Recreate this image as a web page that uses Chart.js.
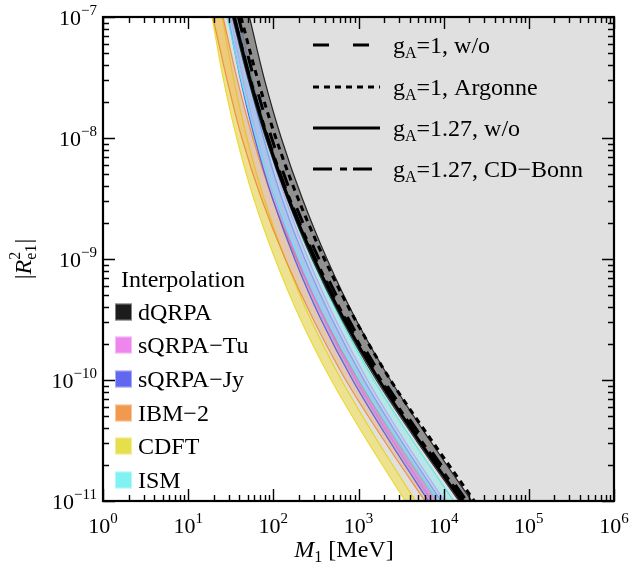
<!DOCTYPE html>
<html>
<head>
<meta charset="utf-8">
<script src="https://cdn.jsdelivr.net/npm/chart.js@4.4.0/dist/chart.umd.min.js"></script>
<style>
html, body { margin: 0; padding: 0; background: #fff; }
</style>
</head>
<body>
<canvas id="grafico" width="633" height="576"></canvas>
<script>
// Niveles de |R^2_e1| en los que se leyeron las curvas (de arriba a abajo)
const nivelesR = [1e-7, 3.16e-8, 1e-8, 3.16e-9, 1e-9, 3.16e-10, 1e-10, 3.16e-11, 1e-11];

// M1 [MeV] de cada borde de banda en esos niveles
const cdftLo = [19.1, 25.7, 37.2, 58.9, 105, 209, 479, 1259, 3548];
const cdftHi = [25.1, 33.9, 49.0, 77.6, 138, 275, 631, 1660, 4677];
const ibmLo  = [19.5, 28.2, 42.7, 72.4, 138, 295, 708, 1995, 6026];
const ibmHi  = [25.7, 37.2, 57.5, 97.7, 188, 407, 1000, 2818, 8511];
const jyLo   = [29.5, 40.7, 60.3, 97.7, 178, 363, 851, 2291, 6607];
const jyHi   = [36.3, 51.3, 76.7, 126, 234, 490, 1161, 3162, 9333];
const tuLo   = [31.6, 43.7, 64.6, 105, 193, 398, 933, 2512, 7244];
const tuHi   = [39.8, 56.2, 84.1, 138, 257, 537, 1274, 3467, 10233];
const ismLo  = [28.8, 41.2, 63.1, 106, 200, 422, 1023, 2851, 8511];
const ismHi  = [38.0, 55.6, 87.1, 148, 285, 617, 1514, 4315, 13183];
const dqLo   = [33.1, 50.1, 81.3, 145, 285, 638, 1622, 4786, 15136];
const dqHi   = [52.5, 77.6, 124, 219, 427, 933, 2371, 6918, 21380];

// Curvas negras (limites)
const gA1wo      = [38.9, 58.9, 95.5, 170, 343, 767, 1972, 5888, 18621];
const gA1Argonne = [41.7, 64.6, 107, 195, 398, 912, 2371, 7244, 22909];
const gA127wo    = [34.7, 52.5, 85.1, 151, 302, 676, 1738, 5129, 16218];
const gA127Bonn  = [34.7, 53.0, 86.5, 155, 313, 706, 1828, 5445, 17378];

// Ticks
const ticksX = [1, 10, 100, 1e3, 1e4, 1e5, 1e6];
const expX = [0, 1, 2, 3, 4, 5, 6];
const ticksY = [1e-7, 1e-8, 1e-9, 1e-10, 1e-11];
const expY = [-7, -8, -9, -10, -11];

const fuente = '"Liberation Serif", "Times New Roman", serif';

function puntos(arr) {
    return arr.map((m, i) => ({ x: m, y: nivelesR[i] }));
}

const bandas = [
    { nombre: 'CDFT',      lo: cdftLo, hi: cdftHi, borde: 'rgba(232,212,30,0.95)', relleno: 'rgba(245,228,80,0.55)', muestra: '#e6df4c' },
    { nombre: 'IBM\u22122', lo: ibmLo,  hi: ibmHi,  borde: 'rgba(240,135,50,0.9)',  relleno: 'rgba(240,150,70,0.30)', muestra: '#f0994f' },
    { nombre: 'sQRPA\u2212Jy', lo: jyLo, hi: jyHi, borde: 'rgba(80,80,240,0.9)',   relleno: 'rgba(100,100,240,0.30)', muestra: '#6366ee' },
    { nombre: 'sQRPA\u2212Tu', lo: tuLo, hi: tuHi, borde: 'rgba(235,110,235,0.9)', relleno: 'rgba(240,130,240,0.30)', muestra: '#ee86ee' },
    { nombre: 'ISM',       lo: ismLo,  hi: ismHi,  borde: 'rgba(80,235,235,0.9)',  relleno: 'rgba(120,240,240,0.40)', muestra: '#80f2f2' },
    { nombre: 'dQRPA',     lo: dqLo,   hi: dqHi,   borde: 'rgba(20,20,20,0.9)',    relleno: 'rgba(90,90,90,0.6)',    muestra: '#1c1c1c' }
];

const lineas = [
    { etiqueta: ['1', ', w/o'],        datos: gA1wo,      dash: [16, 24] },
    { etiqueta: ['1', ', Argonne'],    datos: gA1Argonne, dash: [6, 5] },
    { etiqueta: ['1.27', ', w/o'],     datos: gA127wo,    dash: [] },
    { etiqueta: ['1.27', ', CD\u2212Bonn'], datos: gA127Bonn, dash: [19, 8, 7, 6] }
];

const datasets = [];
// region excluida (gris claro)
datasets.push({
    data: puntos(cdftLo),
    borderWidth: 0,
    borderColor: 'rgba(0,0,0,0)',
    backgroundColor: '#e0e0e0',
    fill: { value: 1e9 }
});
bandas.forEach(b => {
    datasets.push({ data: puntos(b.lo), borderColor: b.borde, borderWidth: 1.2, fill: false });
    datasets.push({ data: puntos(b.hi), borderColor: b.borde, borderWidth: 1.2, backgroundColor: b.relleno, fill: '-1' });
});
lineas.forEach(l => {
    datasets.push({ data: puntos(l.datos), borderColor: '#000', borderWidth: 3, borderDash: l.dash, fill: false });
});
datasets.forEach((d, i) => {
    d.order = 100 - i;
    d.pointRadius = 0;
    d.cubicInterpolationMode = 'monotone';
});

function textoRico(ctx, partes, x, y, align) {
    let total = 0;
    partes.forEach(p => {
        ctx.font = (p.italic ? 'italic ' : '') + p.size + 'px ' + fuente;
        p.w = p.sinAvance ? 0 : ctx.measureText(p.t).width;
        if (p.ancho) p.w = p.ancho;
        total += p.w;
    });
    let cx = align === 'center' ? x - total / 2 : (align === 'right' ? x - total : x);
    partes.forEach(p => {
        ctx.font = (p.italic ? 'italic ' : '') + p.size + 'px ' + fuente;
        ctx.fillText(p.t, cx, y + (p.dy || 0));
        cx += p.w;
    });
}

const marcos = {
    id: 'marcos',
    afterDraw(chart) {
        const ctx = chart.ctx;
        const a = chart.chartArea;
        const sx = chart.scales.x, sy = chart.scales.y;
        ctx.save();
        ctx.fillStyle = '#000';
        ctx.strokeStyle = '#000';
        ctx.textBaseline = 'alphabetic';

        // ticks menores y mayores, hacia dentro en los cuatro lados
        ctx.lineWidth = 1.4;
        ctx.beginPath();
        for (let d = 0; d < 6; d++) {
            for (let k = 2; k <= 9; k++) {
                const px = Math.round(sx.getPixelForValue(k * Math.pow(10, d))) + 0.5;
                ctx.moveTo(px, a.bottom); ctx.lineTo(px, a.bottom - 6);
                ctx.moveTo(px, a.top); ctx.lineTo(px, a.top + 6);
            }
        }
        ticksX.forEach(v => {
            const px = Math.round(sx.getPixelForValue(v)) + 0.5;
            ctx.moveTo(px, a.bottom); ctx.lineTo(px, a.bottom - 12);
            ctx.moveTo(px, a.top); ctx.lineTo(px, a.top + 12);
        });
        for (let d = -11; d < -7; d++) {
            for (let k = 2; k <= 9; k++) {
                const py = Math.round(sy.getPixelForValue(k * Math.pow(10, d))) + 0.5;
                ctx.moveTo(a.left, py); ctx.lineTo(a.left + 6, py);
                ctx.moveTo(a.right, py); ctx.lineTo(a.right - 6, py);
            }
        }
        ticksY.forEach(v => {
            const py = Math.round(sy.getPixelForValue(v)) + 0.5;
            ctx.moveTo(a.left, py); ctx.lineTo(a.left + 12, py);
            ctx.moveTo(a.right, py); ctx.lineTo(a.right - 12, py);
        });
        ctx.stroke();

        // marco
        ctx.lineWidth = 2.2;
        ctx.strokeRect(a.left, a.top, a.right - a.left, a.bottom - a.top);

        // etiquetas de ticks
        ticksX.forEach((v, i) => {
            const px = sx.getPixelForValue(v);
            textoRico(ctx, [{ t: '10', size: 22 }, { t: String(expX[i]), size: 15, dy: -10 }], px, a.bottom + 32, 'center');
        });
        ticksY.forEach((v, i) => {
            const py = sy.getPixelForValue(v);
            textoRico(ctx, [{ t: '10', size: 22 }, { t: '\u2212' + Math.abs(expY[i]), size: 15, dy: -10 }], 97, py + 8, 'right');
        });

        // titulos de ejes
        textoRico(ctx, [
            { t: 'M', size: 24, italic: true },
            { t: '1', size: 16, dy: 5 },
            { t: ' [MeV]', size: 24 }
        ], 344, 557, 'center');

        ctx.save();
        ctx.translate(31, 259);
        ctx.rotate(-Math.PI / 2);
        ctx.font = '16px ' + fuente;
        const anchoSub = ctx.measureText('e1').width;
        textoRico(ctx, [
            { t: '|', size: 24 },
            { t: 'R', size: 24, italic: true },
            { t: '2', size: 16, dy: -11, sinAvance: true },
            { t: 'e1', size: 16, dy: 5, ancho: anchoSub + 1 },
            { t: '|', size: 24 }
        ], 0, 0, 'center');
        ctx.restore();

        // leyenda de lineas (arriba a la derecha)
        const filas = [45, 87, 128, 169];
        lineas.forEach((l, i) => {
            const y = filas[i];
            ctx.lineWidth = 3;
            ctx.setLineDash(l.dash);
            ctx.beginPath();
            ctx.moveTo(313, y); ctx.lineTo(380, y);
            ctx.stroke();
            ctx.setLineDash([]);
            textoRico(ctx, [
                { t: 'g', size: 24 },
                { t: 'A', size: 16, dy: 5 },
                { t: '=' + l.etiqueta[0] + l.etiqueta[1], size: 24 }
            ], 393, y + 8, 'left');
        });

        // leyenda de bandas (abajo a la izquierda)
        textoRico(ctx, [{ t: 'Interpolation', size: 24 }], 121, 287, 'left');
        const orden = ['dQRPA', 'sQRPA\u2212Tu', 'sQRPA\u2212Jy', 'IBM\u22122', 'CDFT', 'ISM'];
        const filasB = [312, 345, 379, 413, 446, 480];
        orden.forEach((n, i) => {
            const b = bandas.find(x => x.nombre === n);
            const y = filasB[i];
            ctx.fillStyle = b.muestra;
            ctx.fillRect(115, y - 8.5, 17, 17);
            ctx.lineWidth = 1;
            ctx.strokeStyle = 'rgba(255,255,255,0.45)';
            ctx.strokeRect(115.5, y - 8, 16, 16);
            ctx.fillStyle = '#000';
            textoRico(ctx, [{ t: n, size: 24 }], 138, y + 8, 'left');
        });
        ctx.restore();
    }
};

new Chart(document.getElementById('grafico').getContext('2d'), {
    type: 'line',
    data: { datasets: datasets },
    options: {
        indexAxis: 'y',
        responsive: false,
        animation: false,
        events: [],
        layout: { padding: { left: 103, right: 19, top: 17, bottom: 75 } },
        scales: {
            x: { type: 'logarithmic', min: 1, max: 1e6, display: false },
            y: { type: 'logarithmic', min: 1e-11, max: 1e-7, display: false }
        },
        plugins: {
            legend: { display: false },
            tooltip: { enabled: false }
        }
    },
    plugins: [marcos]
});
</script>
</body>
</html>
